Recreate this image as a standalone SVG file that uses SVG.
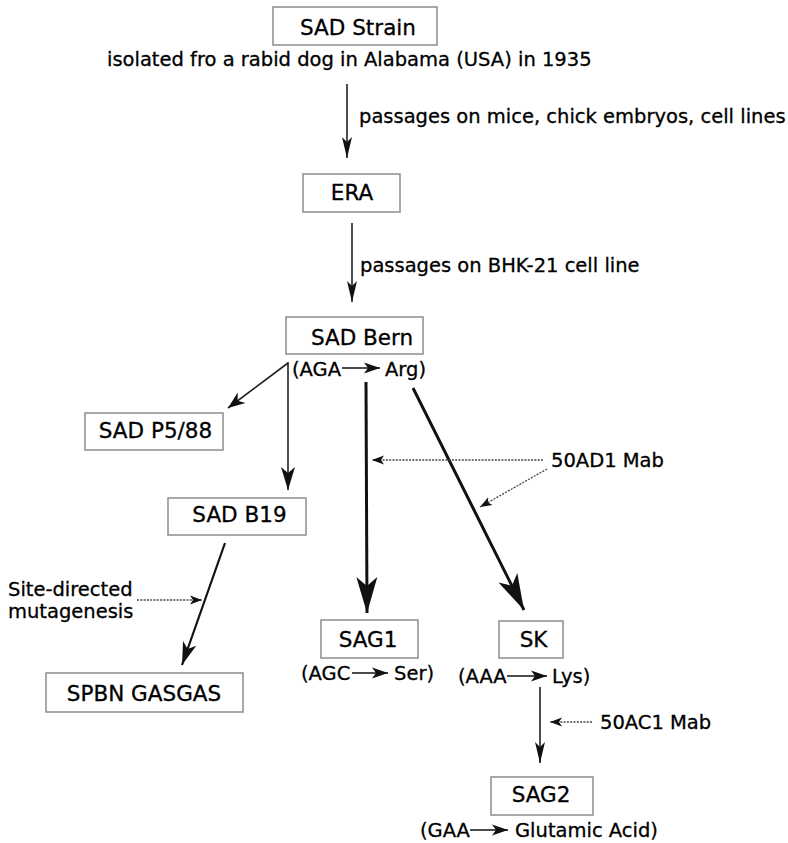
<svg xmlns="http://www.w3.org/2000/svg" width="788" height="843" viewBox="0 0 788 843">
<style>
.box{fill:#fff;stroke:#8c8c8c;stroke-width:1.5}
.nl{font-family:"DejaVu Sans",Verdana,sans-serif;font-size:21.5px;fill:#000;stroke:#000;stroke-width:0.3;text-anchor:middle}
.al{font-family:"DejaVu Sans",Verdana,sans-serif;font-size:19.5px;fill:#000;stroke:#000;stroke-width:0.3}
.thin{stroke:#222;stroke-width:1.6;fill:none}
.mid{stroke:#111;stroke-width:2.2;fill:none}
.thick{stroke:#111;stroke-width:3;fill:none}
.dot{stroke:#444;stroke-width:1.3;stroke-dasharray:2 1.3;fill:none}
.ia{stroke:#111;stroke-width:1.7;fill:none}
</style>
<defs>
<marker id="ms" markerUnits="userSpaceOnUse" markerWidth="22" markerHeight="12" refX="21" refY="6" orient="auto"><path d="M0,1 L21,6 L0,11 L5,6 z" fill="#111"/></marker>
<marker id="mp" markerUnits="userSpaceOnUse" markerWidth="18" markerHeight="14" refX="17" refY="7" orient="auto"><path d="M0,0.5 L17,7 L0,13.5 L5,7 z" fill="#111"/></marker>
<marker id="mm" markerUnits="userSpaceOnUse" markerWidth="24" markerHeight="16" refX="23" refY="8" orient="auto"><path d="M0,1 L23,8 L0,15 L6,8 z" fill="#111"/></marker>
<marker id="ml" markerUnits="userSpaceOnUse" markerWidth="37" markerHeight="23" refX="36" refY="11.5" orient="auto"><path d="M0,1 L36,11.5 L0,22 L9,11.5 z" fill="#111"/></marker>
<marker id="md" markerUnits="userSpaceOnUse" markerWidth="13" markerHeight="11" refX="12" refY="5.5" orient="auto"><path d="M0,1 L12,5.5 L0,10 L3,5.5 z" fill="#111"/></marker>
<marker id="mi" markerUnits="userSpaceOnUse" markerWidth="17" markerHeight="12" refX="16" refY="6" orient="auto"><path d="M0,0.5 L16,6 L0,11.5 L4,6 z" fill="#111"/></marker>
</defs>

<g id="connectors">
<line class="thin" x1="347" y1="84" x2="347" y2="158" marker-end="url(#ms)"/>
<line class="thin" x1="352" y1="223" x2="352" y2="302" marker-end="url(#ms)"/>
<line class="thin" x1="288" y1="363" x2="228" y2="408" marker-end="url(#mp)"/>
<line class="thin" x1="288" y1="362" x2="288" y2="490" marker-end="url(#mm)"/>
<line class="thick" x1="366" y1="382" x2="367" y2="613" marker-end="url(#ml)"/>
<line class="thick" x1="413" y1="388" x2="524" y2="610" marker-end="url(#ml)"/>
<line class="mid" x1="225" y1="543" x2="182" y2="665" marker-end="url(#mm)"/>
<line class="thin" x1="540" y1="687" x2="540" y2="763" marker-end="url(#ms)"/>
<line class="dot" x1="543" y1="460" x2="372" y2="460" marker-end="url(#md)"/>
<line class="dot" x1="547" y1="469" x2="480" y2="507" marker-end="url(#md)"/>
<line class="dot" x1="592" y1="722" x2="550" y2="722" marker-end="url(#md)"/>
<line class="dot" x1="137" y1="600" x2="202" y2="600" marker-end="url(#md)"/>
</g>

<g id="sad-strain">
<rect class="box" x="273" y="7" width="164" height="38"/>
<text class="nl" x="358" y="35">SAD Strain</text>
<text class="al" x="107" y="66">isolated fro a rabid dog in Alabama (USA) in 1935</text>
</g>
<g id="label-passages1"><text class="al" x="359" y="123">passages on mice, chick embryos, cell lines</text></g>
<g id="era">
<rect class="box" x="303" y="174" width="97" height="38"/>
<text class="nl" x="352" y="200">ERA</text>
</g>
<g id="label-passages2"><text class="al" x="360" y="272">passages on BHK-21 cell line</text></g>
<g id="sad-bern">
<rect class="box" x="286" y="317" width="137" height="37"/>
<text class="nl" x="362" y="345">SAD Bern</text>
<text class="al" x="292" y="376">(AGA</text>
<line class="ia" x1="342" y1="368" x2="380" y2="368" marker-end="url(#mi)"/>
<text class="al" x="385" y="376">Arg)</text>
</g>
<g id="sad-p588">
<rect class="box" x="85" y="413" width="138" height="37"/>
<text class="nl" x="155.5" y="438">SAD P5/88</text>
</g>
<g id="sad-b19">
<rect class="box" x="168" y="498" width="138" height="37"/>
<text class="nl" x="239.5" y="522">SAD B19</text>
</g>
<g id="label-50ad1"><text class="al" x="551" y="467">50AD1 Mab</text></g>
<g id="label-site">
<text class="al" x="8" y="596">Site-directed</text>
<text class="al" x="8" y="618">mutagenesis</text>
</g>
<g id="spbn-gasgas">
<rect class="box" x="46" y="673" width="197" height="39"/>
<text class="nl" x="144" y="701">SPBN GASGAS</text>
</g>
<g id="sag1">
<rect class="box" x="321" y="620" width="97" height="38"/>
<text class="nl" x="368" y="647">SAG1</text>
<text class="al" x="301" y="680">(AGC</text>
<line class="ia" x1="352" y1="673" x2="388" y2="673" marker-end="url(#mi)"/>
<text class="al" x="394" y="680">Ser)</text>
</g>
<g id="sk">
<rect class="box" x="499" y="621" width="64" height="37"/>
<text class="nl" x="533.5" y="647">SK</text>
<text class="al" x="458" y="683">(AAA</text>
<line class="ia" x1="507" y1="676" x2="547" y2="676" marker-end="url(#mi)"/>
<text class="al" x="552" y="683">Lys)</text>
</g>
<g id="label-50ac1"><text class="al" x="600" y="729">50AC1 Mab</text></g>
<g id="sag2">
<rect class="box" x="491" y="777" width="102" height="38"/>
<text class="nl" x="541" y="802">SAG2</text>
<text class="al" x="420" y="837">(GAA</text>
<line class="ia" x1="470" y1="830" x2="508" y2="830" marker-end="url(#mi)"/>
<text class="al" x="515" y="837">Glutamic Acid)</text>
</g>
</svg>
